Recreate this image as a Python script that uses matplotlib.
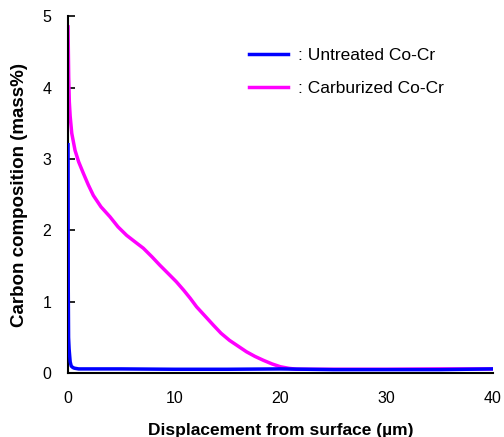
import matplotlib.pyplot as plt

plt.rcParams['font.family'] = ['Liberation Sans', 'DejaVu Sans']

# carburized Co-Cr profile (displacement in um, carbon in mass%)
carb_x = [0.0, 0.03, 0.06, 0.12, 0.2, 0.35, 0.66, 1.0, 1.44, 1.9, 2.38, 3.1,
          3.95, 4.7, 5.52, 6.3, 7.09, 7.9, 8.66, 9.4, 10.2, 10.9, 11.5, 12.1,
          12.9, 13.7, 14.4, 15.2, 16.0, 16.8, 17.6, 18.4, 19.2, 20.0, 20.8,
          21.5, 23.0, 25.0, 30.0, 35.0, 40.0]
carb_y = [4.85, 4.5, 4.15, 3.8, 3.6, 3.36, 3.12, 2.96, 2.80, 2.64, 2.49, 2.33,
          2.19, 2.05, 1.93, 1.84, 1.75, 1.63, 1.51, 1.40, 1.28, 1.16, 1.05, 0.93,
          0.80, 0.67, 0.56, 0.46, 0.38, 0.30, 0.235, 0.18, 0.13, 0.09, 0.068,
          0.056, 0.055, 0.055, 0.055, 0.06, 0.06]

# untreated Co-Cr profile
untr_x = [0.0, 0.02, 0.05, 0.1, 0.2, 0.3, 0.45, 0.6, 1.0, 5.0, 10.0, 15.0,
          20.0, 25.0, 30.0, 35.0, 40.0]
untr_y = [3.2, 1.2, 0.5, 0.34, 0.16, 0.1, 0.08, 0.07, 0.06, 0.06, 0.055,
          0.055, 0.06, 0.05, 0.05, 0.05, 0.06]

fig = plt.figure(figsize=(5.04, 4.37), dpi=100)
ax = fig.add_axes([0.135, 0.146, 0.843, 0.817])

ax.plot(untr_x, untr_y, color='#0000ff', lw=2.5, label=': Untreated Co-Cr', zorder=3)
ax.plot(carb_x, carb_y, color='#ff00ff', lw=2.5, label=': Carburized Co-Cr', zorder=2)

ax.set_xlim(0, 40)
ax.set_ylim(0, 5)
ax.set_xticks([0, 10, 20, 30, 40])
ax.set_yticks([0, 1, 2, 3, 4, 5])
ax.spines['top'].set_visible(False)
ax.spines['right'].set_visible(False)
ax.spines['left'].set_linewidth(1.5)
ax.spines['bottom'].set_linewidth(1.5)
ax.tick_params(direction='in', length=5, width=1.2, labelsize=11.5)
ax.tick_params(axis='x', pad=13, length=0)
ax.tick_params(axis='y', pad=12)

ax.set_xlabel('Displacement from surface (\u00b5m)', fontsize=12.5, fontweight='bold', labelpad=12)
ax.set_ylabel('Carbon composition (mass%)', fontsize=13.5, fontweight='bold', labelpad=10)

ax.legend(loc='upper left', bbox_to_anchor=(0.39, 0.955), frameon=False,
          fontsize=12.5, handlelength=2.25, handletextpad=0.55, labelspacing=1.05)

fig.savefig('out.png', dpi=100)
